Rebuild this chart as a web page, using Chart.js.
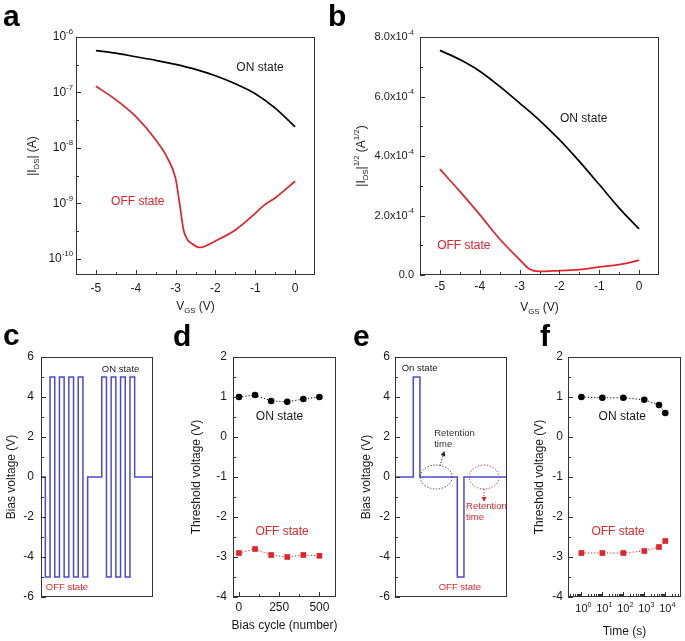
<!DOCTYPE html>
<html>
<head>
<meta charset="utf-8">
<script src="https://cdn.jsdelivr.net/npm/chart.js@4.4.1/dist/chart.umd.min.js"></script>
<style>
  body { margin: 0; background: #fff; }
  #wrap { position: relative; width: 685px; height: 641px; overflow: hidden; }
  canvas { position: absolute; }
</style>
</head>
<body>
<div id="wrap">
  <canvas id="pa" width="330" height="320" style="left:0;top:0"></canvas>
  <canvas id="pb" width="360" height="320" style="left:325px;top:0"></canvas>
  <canvas id="pc" width="170" height="321" style="left:0;top:320px"></canvas>
  <canvas id="pd" width="170" height="321" style="left:170px;top:320px"></canvas>
  <canvas id="pe" width="170" height="321" style="left:340px;top:320px"></canvas>
  <canvas id="pf" width="175" height="321" style="left:510px;top:320px"></canvas>
</div>
<script>
const FONT = '"Liberation Sans", Arial, Helvetica, sans-serif';
const RED = '#e3232b';
const BLUE = '#4a4ad8';
const INK = '#1a1a1a';

// ---- a: |Ids| vs Vgs (log) ----
const vgsOn = [-5, -4.5, -4, -3.5, -3, -2.5, -2, -1.5, -1, -0.5, 0];
const idsOn = [5.7e-7, 5.1e-7, 4.4e-7, 3.8e-7, 3.2e-7, 2.6e-7, 2.0e-7, 1.43e-7, 9.5e-8, 5.2e-8, 2.4e-8];
const vgsOff = [-5, -4.5, -4, -3.5, -3.2, -3, -2.9, -2.8, -2.7, -2.6, -2.4, -2, -1.5, -1, -0.8, -0.5, 0];
const idsOff = [1.29e-7, 7.4e-8, 3.7e-8, 1.4e-8, 6.5e-9, 2.8e-9, 1.0e-9, 3.3e-10, 2.2e-10, 1.9e-10, 1.6e-10, 2.1e-10, 3.3e-10, 6.6e-10, 9.0e-10, 1.25e-9, 2.5e-9];
const aYTicks = [1e-10, 1e-9, 1e-8, 1e-7, 1e-6];
const aYLabels = ['10^{-10}', '10^{-9}', '10^{-8}', '10^{-7}', '10^{-6}'];
const vgsTicks = [-5, -4, -3, -2, -1, 0];
const vgsLabels = ['-5', '-4', '-3', '-2', '-1', '0'];

// ---- b: |Ids|^1/2 vs Vgs ----
const sqrtOn = [7.55e-4, 7.24e-4, 6.85e-4, 6.34e-4, 5.78e-4, 5.2e-4, 4.55e-4, 3.82e-4, 3.04e-4, 2.25e-4, 1.55e-4];
const vgsOffB = [-5, -4.5, -4, -3.5, -3, -2.75, -2.5, -2, -1.5, -1, -0.5, 0];
const sqrtOff = [3.56e-4, 2.81e-4, 2.03e-4, 1.21e-4, 0.52e-4, 0.2e-4, 0.12e-4, 0.15e-4, 0.18e-4, 0.27e-4, 0.35e-4, 0.49e-4];
const bYTicks = [0, 2e-4, 4e-4, 6e-4, 8e-4];
const bYLabels = ['0.0', '2.0x10^{-4}', '4.0x10^{-4}', '6.0x10^{-4}', '8.0x10^{-4}'];

// ---- c: cycling bias pulses ----
const cTime = [0, 1, 2, 3, 4, 5, 6, 7, 8, 9, 10, 13, 14, 15, 16, 17, 18, 19, 20, 23.9];
const cBias = [0, 0, -5, 5, -5, 5, -5, 5, -5, 5, -5, 0, 5, -5, 5, -5, 5, -5, 5, 0];
const biasTicks = [-6, -4, -2, 0, 2, 4, 6];

// ---- d: threshold voltage vs bias cycle ----
const cycles = [0, 100, 200, 300, 400, 500];
const dOn = [1.0, 1.05, 0.9, 0.88, 0.95, 1.0];
const dOff = [-2.9, -2.8, -2.95, -3.0, -2.95, -2.97];
const cycleTicks = [0, 250, 500];
const vthTicks = [-4, -3, -2, -1, 0, 1, 2];

// ---- e: retention bias pulses ----
const eTime = [0, 5.5, 7.5, 18.75, 20.75, 33.7];
const eBias = [0, 0, 5, 0, -5, 0];

// ---- f: threshold voltage vs time ----
const times = [1, 10, 100, 1000, 5000, 10000];
const fOn = [1.0, 0.98, 0.98, 0.93, 0.8, 0.6];
const fOff = [-2.9, -2.9, -2.9, -2.85, -2.75, -2.6];
const timeTicks = [1, 10, 100, 1000, 10000];
const timeLabels = ['10^{0}', '10^{1}', '10^{2}', '10^{3}', '10^{4}'];

const pts = (xs, ys) => xs.map((x, i) => ({x, y: ys[i]}));
const str = a => a.map(String);

// text with ^{sup} and _{sub} parts
function drawRich(ctx, text, x, y, o = {}) {
  const size = o.size || 12;
  const segs = text.split(/(\^\{[^}]*\}|_\{[^}]*\})/).filter(s => s !== '').map(p => {
    if (p.startsWith('^{')) return {t: p.slice(2, -1), s: size * 0.65, dy: -size * 0.4};
    if (p.startsWith('_{')) return {t: p.slice(2, -1), s: size * 0.65, dy: size * 0.28};
    return {t: p, s: size, dy: 0};
  });
  ctx.save();
  ctx.translate(x, y);
  if (o.rot) ctx.rotate(o.rot);
  let w = 0;
  segs.forEach(g => {
    ctx.font = (o.bold ? 'bold ' : '') + g.s + 'px ' + FONT;
    g.w = ctx.measureText(g.t).width;
    w += g.w;
  });
  let cx = -w / 2;
  if (o.align === 'left') cx = 0;
  if (o.align === 'right') cx = -w;
  if (o.align === 'base') cx = -segs[0].w / 2;
  ctx.fillStyle = o.color || INK;
  ctx.textAlign = 'left';
  ctx.textBaseline = o.baseline || 'middle';
  segs.forEach(g => {
    ctx.font = (o.bold ? 'bold ' : '') + g.s + 'px ' + FONT;
    ctx.fillText(g.t, cx, g.dy);
    cx += g.w;
  });
  ctx.restore();
}

const notes = {};

const notesPlugin = {
  id: 'notes',
  afterDraw(chart) {
    const o = notes[chart.canvas.id];
    const {ctx, chartArea: a} = chart;
    const sx = chart.scales.x, sy = chart.scales.y;
    ctx.save();
    ctx.strokeStyle = '#333';
    ctx.lineWidth = 1;
    ctx.setLineDash([]);
    const L = Math.round(a.left), T = Math.round(a.top), R = Math.round(a.right), B = Math.round(a.bottom);
    ctx.strokeRect(L + 0.5, T + 0.5, R - L - 1, B - T - 1);
    const tick = (vals, len, isX) => (vals || []).forEach(v => {
      ctx.beginPath();
      if (isX) {
        const p = Math.round(sx.getPixelForValue(v)) + 0.5;
        ctx.moveTo(p, B); ctx.lineTo(p, B - len);
      } else {
        const p = Math.round(sy.getPixelForValue(v)) + 0.5;
        ctx.moveTo(L, p); ctx.lineTo(L + len, p);
      }
      ctx.stroke();
    });
    tick(o.xMajor, 5, true); tick(o.xMinor, 3, true);
    tick(o.yMajor, 5, false); tick(o.yMinor, 3, false);

    if (o.xLabels) o.xMajor.forEach((v, i) => drawRich(ctx, o.xLabels[i], sx.getPixelForValue(v), B + o.xGap,
      {size: o.xTickSize || 12, align: o.xAlign || 'center'}));
    if (o.yLabels) o.yMajor.forEach((v, i) => drawRich(ctx, o.yLabels[i], L - o.yGap, sy.getPixelForValue(v),
      {size: o.yTickSize || 12, align: 'right'}));
    if (o.xTitle) drawRich(ctx, o.xTitle, (L + R) / 2, B + o.xTitleGap, {size: 12});
    if (o.yTitle) drawRich(ctx, o.yTitle, L - o.yTitleGap, (T + B) / 2, {size: 12, rot: -Math.PI / 2});
    drawRich(ctx, o.letter[0], o.letter[1], o.letter[2], {size: 30, bold: true, align: 'left', baseline: 'alphabetic', color: '#000'});

    (o.ellipses || []).forEach(e => {
      ctx.save();
      ctx.strokeStyle = e.color;
      ctx.setLineDash([1.3, 1.7]);
      ctx.beginPath();
      ctx.ellipse(sx.getPixelForValue(e.x), sy.getPixelForValue(e.y), e.rx, e.ry, 0, 0, Math.PI * 2);
      ctx.stroke();
      ctx.restore();
    });
    (o.arrows || []).forEach(r => {
      const x1 = sx.getPixelForValue(r.x1), y1 = sy.getPixelForValue(r.y1);
      const x2 = sx.getPixelForValue(r.x2), y2 = sy.getPixelForValue(r.y2);
      const ang = Math.atan2(y2 - y1, x2 - x1);
      ctx.save();
      ctx.strokeStyle = r.color; ctx.fillStyle = r.color;
      ctx.setLineDash([1.3, 1.7]);
      ctx.beginPath(); ctx.moveTo(x1, y1); ctx.lineTo(x2, y2); ctx.stroke();
      ctx.setLineDash([]);
      ctx.translate(x2, y2); ctx.rotate(ang);
      ctx.beginPath(); ctx.moveTo(1, 0); ctx.lineTo(-4, -2.5); ctx.lineTo(-4, 2.5); ctx.closePath(); ctx.fill();
      ctx.restore();
    });
    (o.texts || []).forEach(t => drawRich(ctx, t.text, sx.getPixelForValue(t.x), sy.getPixelForValue(t.y),
      {size: t.size || 12, color: t.color, align: t.align || 'center'}));
    ctx.restore();
  }
};

function panel(id, cfg) {
  notes[id] = cfg.notes;
  return new Chart(document.getElementById(id), {
    type: 'line',
    data: {datasets: cfg.datasets},
    plugins: [notesPlugin],
    options: {
      responsive: false,
      animation: false,
      events: [],
      layout: {padding: cfg.padding},
      plugins: {legend: {display: false}, tooltip: {enabled: false}},
      elements: {point: {radius: 0}, line: {borderWidth: 1.7}},
      scales: {
        x: {
          type: cfg.xType || 'linear', min: cfg.xRange[0], max: cfg.xRange[1], bounds: 'data',
          grid: {display: false}, border: {display: false}, ticks: {display: false},
          afterFit: ax => { ax.height = cfg.xh; }
        },
        y: {
          type: cfg.yType || 'linear', min: cfg.yRange[0], max: cfg.yRange[1], bounds: 'data',
          grid: {display: false}, border: {display: false}, ticks: {display: false},
          afterFit: ax => { ax.width = cfg.yw; }
        }
      }
    }
  });
}

const curve = (data, color) => ({data, borderColor: color, cubicInterpolationMode: 'monotone', pointRadius: 0});
// each point is the level reached at that time (vertical edge, then hold)
const pulse = data => ({data, borderColor: BLUE, stepped: 'after', borderWidth: 1.5, pointRadius: 0});
const marks = (data, color, style, r) => ({
  data, borderColor: color, backgroundColor: color, pointBackgroundColor: color, pointBorderColor: color,
  borderWidth: 1, borderDash: [1.2, 2], pointStyle: style, pointRadius: r, pointBorderWidth: 0
});

// a
panel('pa', {
  padding: {left: 36, top: 37, right: 15, bottom: 20}, yw: 40, xh: 25,
  xRange: [-5.5, 0.5], yType: 'logarithmic', yRange: [5.1e-11, 1e-6],
  datasets: [curve(pts(vgsOn, idsOn), '#000'), curve(pts(vgsOff, idsOff), RED)],
  notes: {
    letter: ['a', 3, 26],
    xMajor: vgsTicks, xMinor: [-4.5, -3.5, -2.5, -1.5, -0.5], xLabels: vgsLabels, xGap: 14,
    yMajor: aYTicks, yMinor: [3.16e-10, 3.16e-9, 3.16e-8, 3.16e-7], yLabels: aYLabels, yGap: 3,
    xTitle: 'V_{GS} (V)', xTitleGap: 32, yTitle: '|I_{DS}| (A)', yTitleGap: 43,
    texts: [
      {text: 'ON state', x: -0.88, y: 2.8e-7},
      {text: 'OFF state', x: -3.95, y: 1.07e-9, color: RED}
    ]
  }
});

// b
panel('pb', {
  padding: {left: 35, top: 37, right: 26, bottom: 20}, yw: 60, xh: 25,
  xRange: [-5.5, 0.5], yRange: [0, 8e-4],
  datasets: [curve(pts(vgsOn, sqrtOn), '#000'), curve(pts(vgsOffB, sqrtOff), RED)],
  notes: {
    letter: ['b', 3, 26],
    xMajor: vgsTicks, xMinor: [-4.5, -3.5, -2.5, -1.5, -0.5], xLabels: vgsLabels, xGap: 12,
    yMajor: bYTicks, yMinor: [1e-4, 3e-4, 5e-4, 7e-4], yLabels: bYLabels, yGap: 6, yTickSize: 11,
    xTitle: 'V_{GS} (V)', xTitleGap: 33, yTitle: '|I_{DS}|^{1/2} (A^{1/2})', yTitleGap: 58,
    texts: [
      {text: 'ON state', x: -1.39, y: 5.25e-4},
      {text: 'OFF state', x: -4.4, y: 0.98e-4, color: RED}
    ]
  }
});

// c
panel('pc', {
  padding: {left: 11, top: 37, right: 17, bottom: 44}, yw: 30, xh: 0,
  xRange: [0.08, 23.9], yRange: [-6, 6],
  datasets: [pulse(pts(cTime, cBias))],
  notes: {
    letter: ['c', 3, 25],
    yMajor: biasTicks, yMinor: [-5, -3, -1, 1, 3, 5], yLabels: str(biasTicks), yGap: 7,
    yTitle: 'Bias voltage (V)', yTitleGap: 29,
    texts: [
      {text: 'ON state', x: 17, y: 5.4, size: 9.5},
      {text: 'OFF state', x: 5.6, y: -5.5, size: 9.5, color: RED}
    ]
  }
});

// d
panel('pd', {
  padding: {left: 33, top: 37, right: 3, bottom: 19}, yw: 30, xh: 25,
  xRange: [-37, 603], yRange: [-4, 2],
  datasets: [marks(pts(cycles, dOn), '#000', 'circle', 3.3), marks(pts(cycles, dOff), RED, 'rect', 4)],
  notes: {
    letter: ['d', 3, 26],
    xMajor: cycleTicks, xMinor: [125, 375], xLabels: str(cycleTicks), xGap: 11,
    yMajor: vthTicks, yMinor: [-3.5, -2.5, -1.5, -0.5, 0.5, 1.5], yLabels: str(vthTicks), yGap: 6,
    xTitle: 'Bias cycle (number)', xTitleGap: 29, yTitle: 'Threshold voltage (V)', yTitleGap: 36,
    texts: [
      {text: 'ON state', x: 252, y: 0.5},
      {text: 'OFF state', x: 268, y: -2.375, color: RED}
    ]
  }
});

// e
panel('pe', {
  padding: {left: 25, top: 37, right: 3, bottom: 44}, yw: 30, xh: 0,
  xRange: [0, 33.7], yRange: [-6, 6],
  datasets: [pulse(pts(eTime, eBias))],
  notes: {
    letter: ['e', 13, 26],
    yMajor: biasTicks, yMinor: [-5, -3, -1, 1, 3, 5], yLabels: str(biasTicks), yGap: 5,
    yTitle: 'Bias voltage (V)', yTitleGap: 28,
    ellipses: [
      {x: 12.4, y: 0, rx: 16, ry: 12, color: '#333'},
      {x: 26.8, y: 0, rx: 15, ry: 12, color: RED}
    ],
    arrows: [
      {x1: 13.5, y1: 0.55, x2: 14.8, y2: 1.25, color: '#222'},
      {x1: 26.8, y1: -0.6, x2: 26.8, y2: -1.2, color: RED}
    ],
    texts: [
      {text: 'On state', x: 2, y: 5.45, size: 9.5, align: 'left'},
      {text: 'Retention', x: 11.8, y: 2.18, size: 9.5, align: 'left', color: '#333'},
      {text: 'time', x: 11.8, y: 1.62, size: 9.5, align: 'left', color: '#333'},
      {text: 'Retention', x: 21.4, y: -1.45, size: 9.5, align: 'left', color: RED},
      {text: 'time', x: 21.4, y: -2.0, size: 9.5, align: 'left', color: RED},
      {text: 'OFF state', x: 19.5, y: -5.5, size: 9.5, color: RED}
    ]
  }
});

// f
const timeMinor = [];
for (let d = 0.1; d <= 10000; d *= 10) for (let m = 2; m <= 9; m++) if (d * m >= 0.23 && d * m <= 56000) timeMinor.push(d * m);
panel('pf', {
  padding: {left: 28, top: 37, right: 4, bottom: 19}, yw: 30, xh: 25,
  xType: 'logarithmic', xRange: [0.23, 56000], yRange: [-4, 2],
  datasets: [marks(pts(times, fOn), '#000', 'circle', 3.3), marks(pts(times, fOff), RED, 'rect', 4)],
  notes: {
    letter: ['f', 30, 26],
    xMajor: timeTicks, xMinor: timeMinor, xLabels: timeLabels, xGap: 12, xTickSize: 11, xAlign: 'base',
    yMajor: vthTicks, yMinor: [-3.5, -2.5, -1.5, -0.5, 0.5, 1.5], yLabels: str(vthTicks), yGap: 5,
    xTitle: 'Time (s)', xTitleGap: 35, yTitle: 'Threshold voltage (V)', yTitleGap: 28,
    texts: [
      {text: 'ON state', x: 89, y: 0.5},
      {text: 'OFF state', x: 56, y: -2.375, color: RED}
    ]
  }
});
</script>
</body>
</html>
